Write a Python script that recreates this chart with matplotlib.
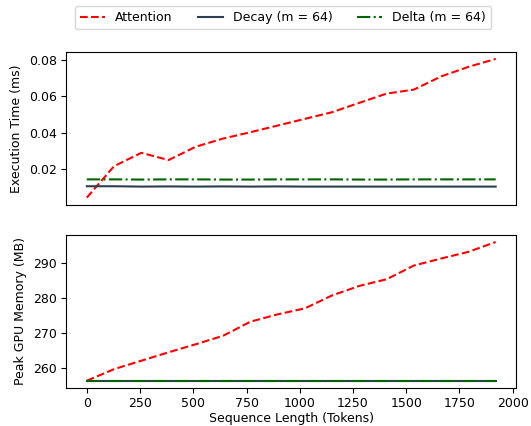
import matplotlib
matplotlib.use('Agg')
import matplotlib.pyplot as plt

# sequence lengths (tokens)
seq_len = [0, 128, 256, 384, 512, 640, 768, 896, 1024, 1152, 1280, 1408, 1536, 1664, 1792, 1920]

# execution time (ms)
attn_time = [0.0040, 0.0214, 0.0288, 0.0248, 0.0322, 0.0367, 0.0402, 0.0439,
             0.0476, 0.0513, 0.0565, 0.0616, 0.0638, 0.0711, 0.0764, 0.0808]
decay_time = [0.0103, 0.0103, 0.0101, 0.0102, 0.0101, 0.0102, 0.0101, 0.0102,
              0.0101, 0.0101, 0.0101, 0.0101, 0.0101, 0.0101, 0.0101, 0.0101]
delta_time = [0.0141, 0.0141, 0.0140, 0.0141, 0.0141, 0.0140, 0.0140, 0.0141,
              0.0141, 0.0141, 0.0140, 0.0140, 0.0141, 0.0141, 0.0141, 0.0141]

# peak GPU memory (MB)
attn_mem = [256.4, 259.7, 262.1, 264.5, 266.8, 269.2, 273.2, 275.3,
            277.0, 280.7, 283.4, 285.3, 289.2, 291.2, 293.1, 295.9]
decay_mem = [256.4] * 16
delta_mem = [256.4] * 16

fig, (ax1, ax2) = plt.subplots(2, 1, figsize=(5.31, 4.26), dpi=100, sharex=True)
fig.subplots_adjust(left=0.125, right=0.972, top=0.878, bottom=0.09, hspace=0.2)

red = 'red'
navy = '#2c3e50'
green = '#006400'

ax1.plot(seq_len, attn_time, color=red, linestyle='--', linewidth=1.5, label='Attention')
ax1.plot(seq_len, decay_time, color=navy, linestyle='-', linewidth=1.5, label='Decay (m = 64)')
ax1.plot(seq_len, delta_time, color=green, linestyle='-.', linewidth=1.5, label='Delta (m = 64)')
ax1.set_ylabel('Execution Time (ms)', fontsize=9)
ax1.set_yticks([0.02, 0.04, 0.06, 0.08])
ax1.tick_params(axis='x', bottom=False, labelbottom=False)
ax1.tick_params(axis='y', labelsize=9)

ax2.plot(seq_len, attn_mem, color=red, linestyle='--', linewidth=1.5)
ax2.plot(seq_len, decay_mem, color=navy, linestyle='-', linewidth=1.5)
ax2.plot(seq_len, delta_mem, color=green, linestyle='-.', linewidth=1.5)
ax2.set_ylabel('Peak GPU Memory (MB)', fontsize=9)
ax2.set_xlabel('Sequence Length (Tokens)', fontsize=9, labelpad=1)
ax2.set_xticks([0, 250, 500, 750, 1000, 1250, 1500, 1750, 2000])
ax2.set_yticks([260, 270, 280, 290])
ax2.tick_params(labelsize=9)

fig.legend(loc='upper center', ncol=3, bbox_to_anchor=(0.533, 1.0), frameon=True, fontsize=9)

fig.savefig('out.png', dpi=100)
